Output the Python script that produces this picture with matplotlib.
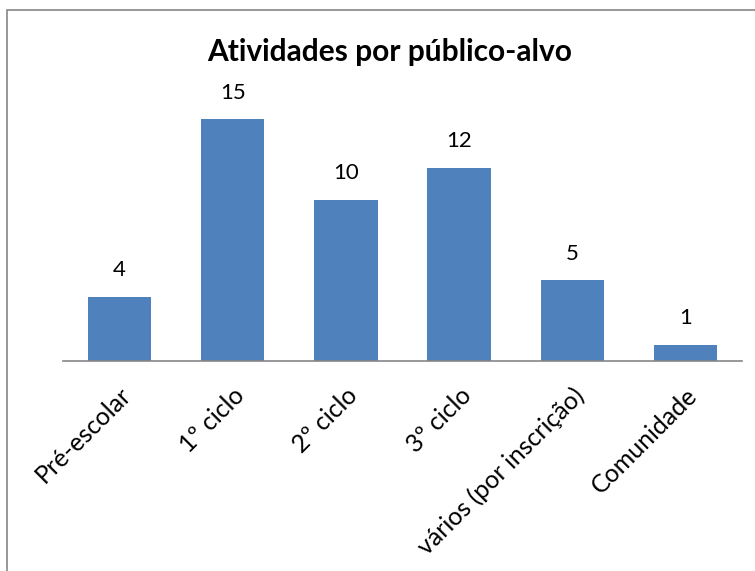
import matplotlib
matplotlib.use("Agg")
import matplotlib.pyplot as plt
from matplotlib.patches import Rectangle

categories = ["Pré-escolar", "1º ciclo", "2º ciclo", "3º ciclo",
              "vários (por inscrição)", "Comunidade"]
values = [4, 15, 10, 12, 5, 1]

plt.rcParams['font.family'] = ['Lato', 'DejaVu Sans']

W, H = 755, 571
fig = plt.figure(figsize=(W / 100, H / 100), dpi=100)

# axes placed in pixel coordinates of the reference
left, right = 63, 742
base, top = 361, 103
ax = fig.add_axes([left / W, 1 - base / H, (right - left) / W, (base - top) / H])

x = range(len(categories))
bars = ax.bar(x, values, width=0.56, color="#4f81bd")
ax.set_xlim(-0.5, len(categories) - 0.5)
ax.set_ylim(0, 16)

for b, v in zip(bars, values):
    ax.text(b.get_x() + b.get_width() / 2, v + 1.65, str(v),
            ha="center", va="center", fontsize=16)

ax.set_xticks(list(x))
ax.set_xticklabels(categories, rotation=45, ha="right",
                   rotation_mode="anchor", fontsize=18)
ax.tick_params(axis="x", length=0, pad=16)
ax.set_yticks([])
for s in ["top", "right", "left"]:
    ax.spines[s].set_visible(False)
ax.spines["bottom"].set_color("#868686")
ax.spines["bottom"].set_linewidth(1.2)

fig.text(390 / W, 1 - 52 / H, "Atividades por público-alvo",
         ha="center", va="center", fontsize=21.5, fontweight="bold")

# chart area border (cropped at right and bottom)
fig.patches.append(Rectangle((7 / W, -0.1), 1.2, 1 - 10 / H + 0.1,
                             transform=fig.transFigure, fill=False,
                             edgecolor="#868686", linewidth=1.2))

fig.savefig("out.png", dpi=100)
